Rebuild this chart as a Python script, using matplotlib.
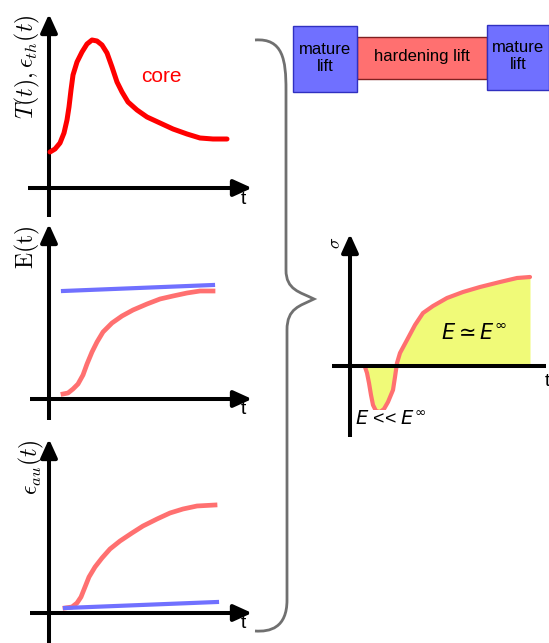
import numpy as np
import matplotlib.pyplot as plt
from matplotlib.patches import Rectangle, PathPatch
from matplotlib.path import Path

# curve samples (pixel coordinates, y grows downward)
core_x = [50, 55, 60, 64, 67, 69, 71, 73, 77, 82, 87, 92, 97, 102, 107, 112, 117,
          122, 128, 137, 147, 160, 173, 187, 200, 213, 227]
core_y = [152, 149, 143, 133, 120, 107, 90, 75, 62, 52, 44, 40, 41, 45, 53, 67, 82,
          92, 102, 110, 117, 123, 129, 134, 138, 139, 139]

e_young_x = [63, 68, 73, 78, 83, 87, 92, 97, 103, 112, 122, 133, 147, 160, 173, 187, 200, 213]
e_young_y = [394, 393, 389, 384, 375, 364, 352, 342, 332, 323, 316, 310, 304, 299, 296, 293, 291, 291]
e_mature_x = [63, 213]
e_mature_y = [291, 285]

eau_young_x = [65, 72, 77, 81, 85, 89, 95, 102, 110, 120, 132, 143, 157, 170, 183, 197, 215]
eau_young_y = [608, 607, 603, 597, 587, 577, 567, 558, 549, 541, 533, 526, 519, 513, 509, 506, 505]
eau_mature_x = [65, 217]
eau_mature_y = [608, 602]

sig_x = [365, 367, 369, 371, 373, 376, 380, 384, 388, 393, 395, 397, 400, 407, 415,
         423, 433, 447, 463, 480, 500, 517, 530]
sig_y = [367, 373, 383, 395, 405, 411, 412, 409, 402, 390, 377, 363, 353, 340, 325,
         313, 306, 298, 292, 287, 282, 278, 277]

box_labels = ['mature\nlift', 'hardening lift', 'mature\nlift']

plt.rcParams['mathtext.fontset'] = 'cm'
plt.rcParams['font.family'] = ['Liberation Sans', 'DejaVu Sans']

fig = plt.figure(figsize=(5.49, 6.43), dpi=100)
ax = fig.add_axes([0, 0, 1, 1])
ax.set_xlim(0, 549)
ax.set_ylim(643, 0)
ax.axis('off')

BLUE = '#7070ff'
SALMON = '#ff7070'
LW_AX = 2.9


def draw_axes(x0, y_axis, x_start, x_tip, y_top, y_bot, t_pos):
    ax.plot([x0, x0], [y_bot, y_top + 10], color='k', lw=LW_AX, solid_capstyle='butt')
    ax.plot([x_start, x_tip - 10], [y_axis, y_axis], color='k', lw=LW_AX, solid_capstyle='butt')
    head = dict(arrowstyle='-|>,head_length=1.1,head_width=0.5', color='k', lw=LW_AX,
                shrinkA=0, shrinkB=0)
    ax.annotate('', xy=(x0, y_top), xytext=(x0, y_top + 12), arrowprops=head)
    ax.annotate('', xy=(x_tip, y_axis), xytext=(x_tip - 12, y_axis), arrowprops=head)
    ax.text(t_pos[0], t_pos[1], 't', fontsize=14, ha='center', va='center')


# panel 1
draw_axes(49, 188, 28, 252, 14, 217, (243, 200))
ax.plot(core_x, core_y, color='#ff0000', lw=3.6, solid_capstyle='round')
ax.text(161, 77, 'core', color='#ff0000', fontsize=15, ha='center', va='center')
ax.text(27, 67, r'$T(t), \epsilon_{th}(t)$', fontsize=17, rotation=90, ha='center', va='center')

# panel 2
draw_axes(49, 399, 30, 252, 224, 420, (243, 409))
ax.plot(e_mature_x, e_mature_y, color=BLUE, lw=3.0)
ax.plot(e_young_x, e_young_y, color=SALMON, lw=3.4)
ax.text(27, 247, r'$\mathrm{E(t)}$', fontsize=17, rotation=90, ha='center', va='center')

# panel 3
draw_axes(49, 613, 30, 252, 439, 643, (243, 623))
ax.plot(eau_young_x, eau_young_y, color=SALMON, lw=3.4)
ax.plot(eau_mature_x, eau_mature_y, color=BLUE, lw=3.0)
ax.text(31, 467, r'$\epsilon_{au}(t)$', fontsize=17, rotation=90, ha='center', va='center')

# brace
verts = [(255, 40), (283, 38), (286, 60), (286, 90),
         (286, 270),
         (286, 290), (300, 292), (314, 299),
         (300, 306), (287, 308), (287, 330),
         (287, 600),
         (287, 628), (270, 632), (255, 631)]
codes = [Path.MOVETO, Path.CURVE4, Path.CURVE4, Path.CURVE4,
         Path.LINETO,
         Path.CURVE4, Path.CURVE4, Path.CURVE4,
         Path.CURVE4, Path.CURVE4, Path.CURVE4,
         Path.LINETO,
         Path.CURVE4, Path.CURVE4, Path.CURVE4]
ax.add_patch(PathPatch(Path(verts, codes), fill=False, edgecolor='#707070', lw=2.0))

# boxes
ax.add_patch(Rectangle((357, 37), 130, 42, facecolor=SALMON, edgecolor='#802020', lw=1))
ax.add_patch(Rectangle((293, 26), 64, 66, facecolor=BLUE, edgecolor='#3030c0', lw=1))
ax.add_patch(Rectangle((487, 25), 62, 65, facecolor=BLUE, edgecolor='#3030c0', lw=1))
ax.text(325, 58, box_labels[0], fontsize=12, ha='center', va='center', linespacing=1.15)
ax.text(422, 56, box_labels[1], fontsize=12, ha='center', va='center')
ax.text(518, 56, box_labels[2], fontsize=12, ha='center', va='center', linespacing=1.15)

# stress panel
ax.fill_between(sig_x, sig_y, 366, color='#f0fa78', lw=0)
ax.plot(sig_x, sig_y, color=SALMON, lw=3.0, solid_capstyle='round')
draw_axes(350, 366, 332, 556, 234, 437, (547, 382))
ax.text(336, 243, r'$\sigma$', fontsize=13, rotation=90, ha='center', va='center')
ax.text(474, 334, r'$E \simeq E^{\infty}$', fontsize=15, ha='center', va='center',
        math_fontfamily='dejavusans')
ax.text(355, 420, r'$E$ << $E^{\infty}$', fontsize=14, ha='left', va='center',
        math_fontfamily='dejavusans',
        bbox=dict(facecolor='white', edgecolor='none', pad=0.3))

fig.savefig('out.png', dpi=100)
